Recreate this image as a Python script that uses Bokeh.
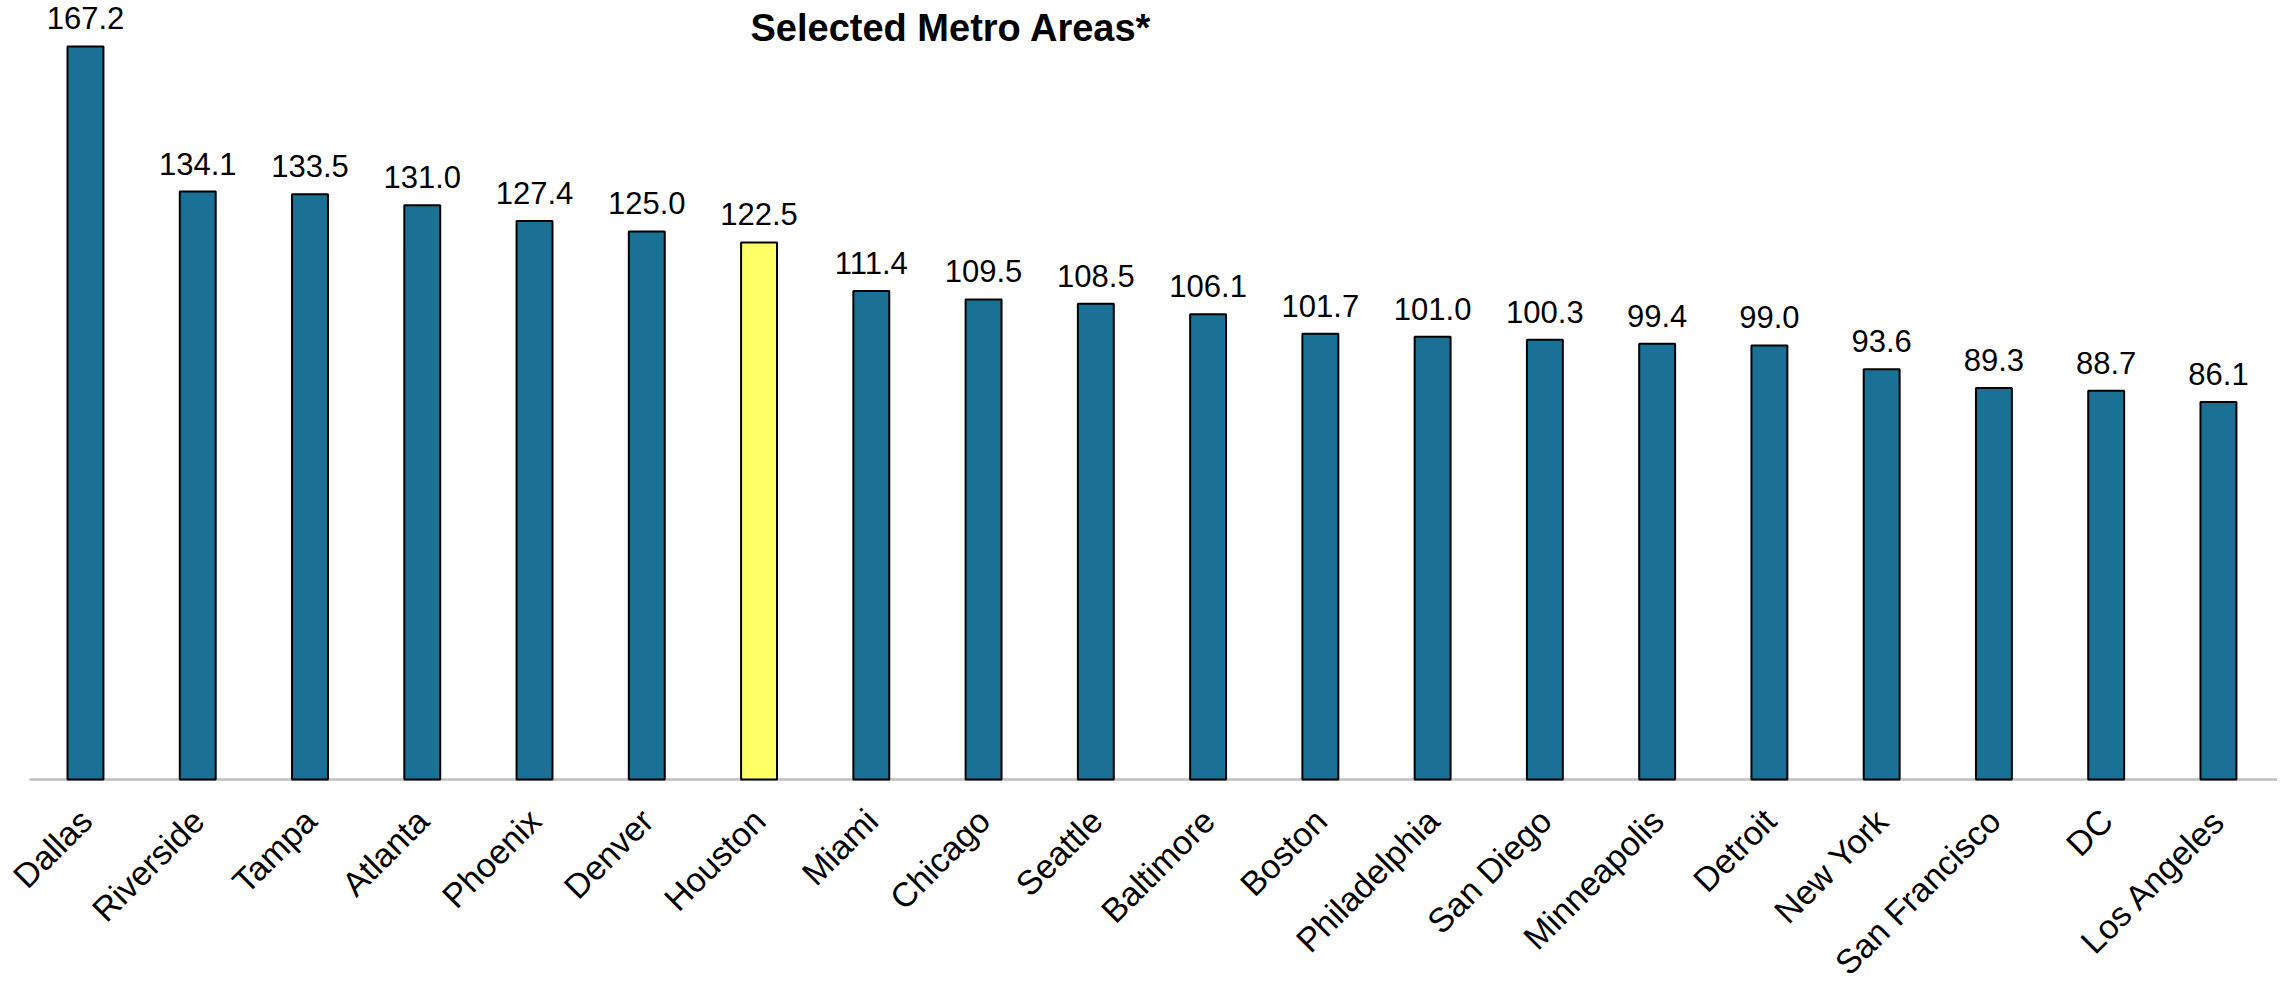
import math
from bokeh.plotting import figure
from bokeh.models import ColumnDataSource, Label, Range1d
from bokeh.core.properties import value
from bokeh.embed import file_html
from bokeh.resources import INLINE

cities = ["Dallas", "Riverside", "Tampa", "Atlanta", "Phoenix", "Denver", "Houston",
          "Miami", "Chicago", "Seattle", "Baltimore", "Boston", "Philadelphia",
          "San Diego", "Minneapolis", "Detroit", "New York", "San Francisco", "DC",
          "Los Angeles"]
values = [167.2, 134.1, 133.5, 131.0, 127.4, 125.0, 122.5, 111.4, 109.5, 108.5,
          106.1, 101.7, 101.0, 100.3, 99.4, 99.0, 93.6, 89.3, 88.7, 86.1]
highlight = "Houston"
title_text = "Selected Metro Areas*"

BLUE = "#1B7095"
YELLOW = "#FFFF66"
FONT = "Liberation Sans"

positions = list(range(len(cities)))
colors = [YELLOW if c == highlight else BLUE for c in cities]
labels = [f"{v:.1f}" for v in values]
zeros = [0] * len(cities)
src = ColumnDataSource(dict(pos=positions, city=cities, val=values, color=colors,
                            label=labels, base=zeros))

# the frame fills the whole canvas so the rotated labels and top value label are not clipped
p = figure(x_range=Range1d(-0.757, 19.526), y_range=Range1d(-46.53, 177.69),
           width=2277, height=983, output_backend="svg", toolbar_location=None,
           min_border_left=0, min_border_right=0, min_border_top=0,
           min_border_bottom=0)

# baseline (category axis line), starting at the left edge of the first category band
p.ray(x=[positions[0] - 0.5], y=[0], length=0, angle=0, line_color="#BFBFBF",
      line_width=2.5)

p.vbar(x="pos", top="val", bottom=0, width=0.32, source=src, fill_color="color",
       line_color="black", line_width=2)

p.text(x="pos", y="val", text="label", source=src, text_align="center",
       text_baseline="alphabetic", y_offset=-28, text_font=value(FONT),
       text_font_size="31px", text_color="black")

p.xaxis.visible = False
p.yaxis.visible = False
p.xgrid.visible = False
p.ygrid.visible = False
p.outline_line_color = None
p.background_fill_color = "white"
p.border_fill_color = "white"

# rotated category labels
p.text(x="pos", y="base", text="city", source=src, angle=math.pi / 4,
       x_offset=-13, y_offset=22, text_align="right", text_baseline="top",
       text_font=value(FONT), text_font_size="34px", text_color="black")

title = Label(x=750, y=956, x_units="screen", y_units="screen", text=title_text,
              text_font=FONT, text_font_style="bold", text_font_size="38px",
              text_align="left", text_baseline="alphabetic", text_color="black")
p.add_layout(title)

open("out.html", "w").write(file_html(p, INLINE))
